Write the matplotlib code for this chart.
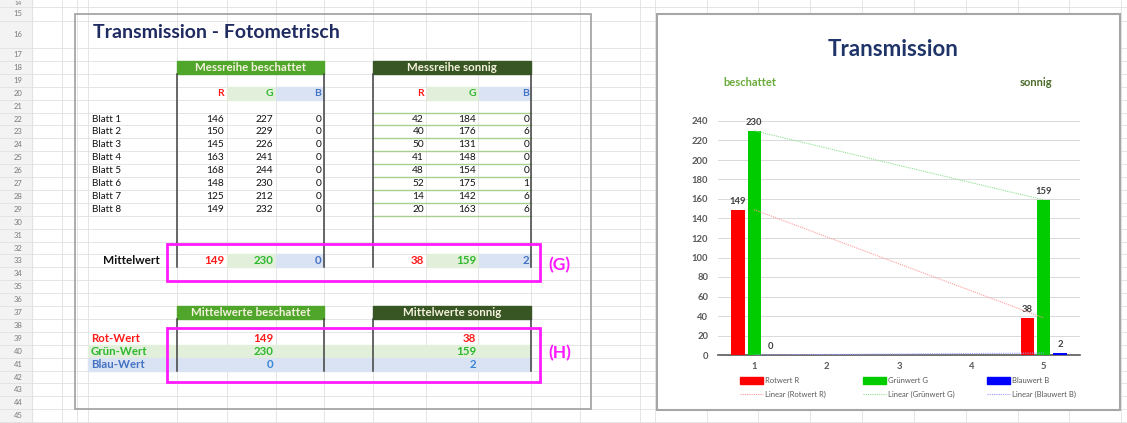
import matplotlib
matplotlib.use("Agg")
import matplotlib.pyplot as plt
from matplotlib.patches import Rectangle
import numpy as np

plt.rcParams['font.family'] = ['Lato', 'DejaVu Sans']

# values read from the sheet
blatt = ["Blatt 1", "Blatt 2", "Blatt 3", "Blatt 4", "Blatt 5", "Blatt 6", "Blatt 7", "Blatt 8"]
besch_r = [146, 150, 145, 163, 168, 148, 125, 149]
besch_g = [227, 229, 226, 241, 244, 230, 212, 232]
besch_b = [0, 0, 0, 0, 0, 0, 0, 0]
sonn_r = [42, 40, 50, 41, 48, 52, 14, 20]
sonn_g = [184, 176, 131, 148, 154, 175, 142, 163]
sonn_b = [0, 6, 0, 0, 0, 1, 6, 6]
mittel_besch = [149, 230, 0]
mittel_sonn = [38, 159, 2]

# chart series (categories 2-4 are empty)
chart_cats = [1, 2, 3, 4, 5]
rotwert = [149, np.nan, np.nan, np.nan, 38]
gruenwert = [230, np.nan, np.nan, np.nan, 159]
blauwert = [0, np.nan, np.nan, np.nan, 2]
series_names = ["Rotwert R", "Grünwert G", "Blauwert B"]

RED = '#ff1a1a'
GREEN = '#2db82d'
BLUE = '#4472c4'
LGREEN = '#e2efda'
LBLUE = '#dae3f3'
GRID = '#e0e0e0'


def row_top(n):
    if n == 14:
        return -6
    if n == 15:
        return 7
    if n == 16:
        return 21
    if n == 17:
        return 48
    return 61 + (n - 18) * 12.9


def row_mid(n):
    return (row_top(n) + row_top(n + 1)) / 2


fig = plt.figure(figsize=(11.27, 4.23), dpi=100)
bg = fig.add_axes([0, 0, 1, 1])
bg.set_xlim(0, 1127)
bg.set_ylim(423, 0)
bg.axis('off')

# spreadsheet grid
bg.add_patch(Rectangle((0, 0), 32, 423, color='#f3f3f3', zorder=0))
for n in range(15, 47):
    bg.plot([0, 1127], [row_top(n)] * 2, color=GRID, lw=0.6, zorder=1)
bg.text(18, 3.5, "14", ha='center', va='center', fontsize=4.5, color='#7a7a7a', zorder=5)
for n in range(15, 46):
    bg.text(18, row_mid(n), str(n), ha='center', va='center', fontsize=5.5, color='#7a7a7a', zorder=5)
cols = [32, 62, 77, 88, 177, 227, 276, 324, 373, 426, 478, 531, 580, 640, 655,
        707, 758, 810, 862, 914, 966, 1018, 1069, 1121]
for c in cols:
    bg.plot([c, c], [0, 423], color=GRID, lw=0.6, zorder=1)

# left panel
bg.add_patch(Rectangle((75, 14), 516, 395, fill=False, ec='#a6a6a6', lw=1.3, zorder=3))
bg.text(93, 33, "Transmission - Fotometrisch", fontsize=14, fontweight='bold',
        color='#1f2a60', va='center', zorder=5)

tables = [
    (177, 324, [224, 273, 321], "Messreihe beschattet", '#4fa62a', besch_r, besch_g, besch_b),
    (373, 531, [424, 476, 529], "Messreihe sonnig", '#375623', sonn_r, sonn_g, sonn_b),
]
for x0, x1, rx, title, hc, rv, gv, bv in tables:
    bg.add_patch(Rectangle((x0, row_top(18)), x1 - x0, row_top(19) - row_top(18), color=hc, zorder=2))
    bg.text((x0 + x1) / 2, row_mid(18), title, ha='center', va='center', fontsize=8.3,
            fontweight='bold', color='#f4f1dc', zorder=5)
    # R G B header cells
    bg.add_patch(Rectangle((rx[0] + 3, row_top(20)), rx[1] - rx[0], 12.9, color=LGREEN, zorder=2))
    bg.add_patch(Rectangle((rx[1] + 3, row_top(20)), x1 - rx[1] - 3, 12.9, color=LBLUE, zorder=2))
    for x, s, col in zip(rx, "RGB", [RED, GREEN, BLUE]):
        bg.text(x, row_mid(20), s, ha='right', va='center', fontsize=7.5, fontweight='bold', color=col, zorder=5)
    for i in range(8):
        y = row_mid(22 + i)
        for x, v in zip(rx, [rv[i], gv[i], bv[i]]):
            bg.text(x, y, str(v), ha='right', va='center', fontsize=7.3, color='#111111', zorder=5)
    for x in (x0, x1):
        bg.plot([x, x], [row_top(19), row_top(34)], color='#404040', lw=1.1, zorder=4)

# green row lines in the sonnig table
for n in range(22, 31):
    bg.plot([373, 531], [row_top(n)] * 2, color='#a9d08e', lw=1.0, zorder=3)

for i, name in enumerate(blatt):
    bg.text(92, row_mid(22 + i), name, ha='left', va='center', fontsize=7.1, color='#111111', zorder=5)

# Mittelwert row
bg.text(160, row_mid(33), "Mittelwert", ha='right', va='center', fontsize=8.5, fontweight='bold',
        color='#111111', zorder=5)
for rx, vals, x1 in ([224, 273, 321], mittel_besch, 324), ([424, 476, 529], mittel_sonn, 531):
    bg.add_patch(Rectangle((rx[0] + 3, row_top(33)), rx[1] - rx[0], 12.9, color=LGREEN, zorder=2))
    bg.add_patch(Rectangle((rx[1] + 3, row_top(33)), x1 - rx[1] - 3, 12.9, color=LBLUE, zorder=2))
    for x, v, col in zip(rx, vals, [RED, GREEN, BLUE]):
        bg.text(x, row_mid(33), str(v), ha='right', va='center', fontsize=8.3, fontweight='bold',
                color=col, zorder=5)

# Mittelwerte tables
bg.add_patch(Rectangle((88, row_top(40)), 443, 12.9, color=LGREEN, zorder=2))
bg.add_patch(Rectangle((88, row_top(41)), 443, 12.9, color=LBLUE, zorder=2))
labels = ["Rot-Wert", "Grün-Wert", "Blau-Wert"]
lcols = [RED, GREEN, BLUE]
for i in range(3):
    bg.text(91, row_mid(39 + i), labels[i], ha='left', va='center', fontsize=8.2, fontweight='bold',
            color=lcols[i], zorder=5)
vcols = [RED, GREEN, '#3a86d6']
for x0, x1, rx, title, hc, vals in [(177, 324, 273, "Mittelwerte beschattet", '#4fa62a', mittel_besch),
                                    (373, 531, 476, "Mittelwerte sonnig", '#375623', mittel_sonn)]:
    bg.add_patch(Rectangle((x0, row_top(37)), x1 - x0, 12.9, color=hc, zorder=2))
    bg.text((x0 + x1) / 2, row_mid(37), title, ha='center', va='center', fontsize=8.3,
            fontweight='bold', color='#f4f1dc', zorder=5)
    for x in (x0, x1):
        bg.plot([x, x], [row_top(38), row_top(42)], color='#404040', lw=1.1, zorder=4)
    for i, v in enumerate(vals):
        bg.text(rx, row_mid(39 + i), str(v), ha='right', va='center', fontsize=8.3, fontweight='bold',
                color=vcols[i], zorder=5)

# magenta boxes
bg.add_patch(Rectangle((167, 244), 373, 37, fill=False, ec='#ff1aff', lw=2.0, zorder=6))
bg.add_patch(Rectangle((167, 328), 373, 54, fill=False, ec='#ff1aff', lw=2.0, zorder=6))
bg.text(548, 265, "(G)", ha='left', va='center', fontsize=12.5, fontweight='bold', color='#ff1aff', zorder=6)
bg.text(548, 353, "(H)", ha='left', va='center', fontsize=12.5, fontweight='bold', color='#ff1aff', zorder=6)

# chart panel
bg.add_patch(Rectangle((657, 14), 463, 396, fc='white', ec='#a6a6a6', lw=1.5, zorder=10))
bg.text(893, 50, "Transmission", ha='center', va='center', fontsize=16, fontweight='bold',
        color='#1f3468', zorder=11)
bg.text(723, 82, "beschattet", ha='left', va='center', fontsize=8, fontweight='bold', color='#6aaa3a', zorder=11)
bg.text(1052, 82, "sonnig", ha='right', va='center', fontsize=8, fontweight='bold', color='#4b6b2b', zorder=11)

ax = fig.add_axes([718 / 1127, 1 - 355 / 423, 362 / 1127, 234 / 423])
ax.set_facecolor('none')
bar_cols = ['#ff0000', '#00cc00', '#0000ff']
trend_cols = ['#ff9a9a', '#8fe08f', '#9a9aff']
bw = 0.185
off = 0.225
cats = np.array(chart_cats)
for k, vals in enumerate([rotwert, gruenwert, blauwert]):
    vals = np.array(vals, dtype=float)
    m = ~np.isnan(vals)
    bars = ax.bar(cats[m] + (k - 1) * off, vals[m], width=bw, color=bar_cols[k], zorder=6)
    ax.bar_label(bars, padding=3, fontsize=6.8, fontweight='bold', color='#404040')
    fit = np.polyfit(cats[m], vals[m], 1)
    xs = np.array([cats[m].min(), cats[m].max()])
    ax.plot(xs, np.polyval(fit, xs), linestyle=(0, (1, 1)), lw=0.8, color=trend_cols[k], zorder=7)

ax.set_xlim(0.5, 5.5)
ax.set_ylim(0, 240)
ax.set_yticks(np.arange(0, 241, 20))
ax.set_xticks(chart_cats)
ax.grid(axis='y', color='#d9d9d9', lw=0.7, zorder=0)
ax.set_axisbelow(True)
for s in ['top', 'right', 'left']:
    ax.spines[s].set_visible(False)
ax.spines['bottom'].set_color('#595959')
ax.spines['bottom'].set_linewidth(1.2)
ax.spines['bottom'].set_zorder(2)
ax.tick_params(length=0, labelsize=6.8, labelcolor='#595959')
ax.tick_params(axis='y', pad=7)
ax.tick_params(axis='x', pad=5)
for lab in ax.get_xticklabels() + ax.get_yticklabels():
    lab.set_fontweight('bold')

# legend
leg_x = [740, 863, 987]
for k in range(3):
    x = leg_x[k]
    bg.add_patch(Rectangle((x, 377), 23, 7, color=bar_cols[k], zorder=11))
    bg.text(x + 25, 380.5, series_names[k], ha='left', va='center', fontsize=5.5, color='#595959', zorder=11)
    bg.plot([x, x + 23], [394, 394], linestyle=(0, (1, 1)), lw=0.8, color=trend_cols[k], zorder=11)
    bg.text(x + 25, 394, "Linear (%s)" % series_names[k], ha='left', va='center', fontsize=5.5,
            color='#595959', zorder=11)

fig.savefig("out.png", dpi=100)
